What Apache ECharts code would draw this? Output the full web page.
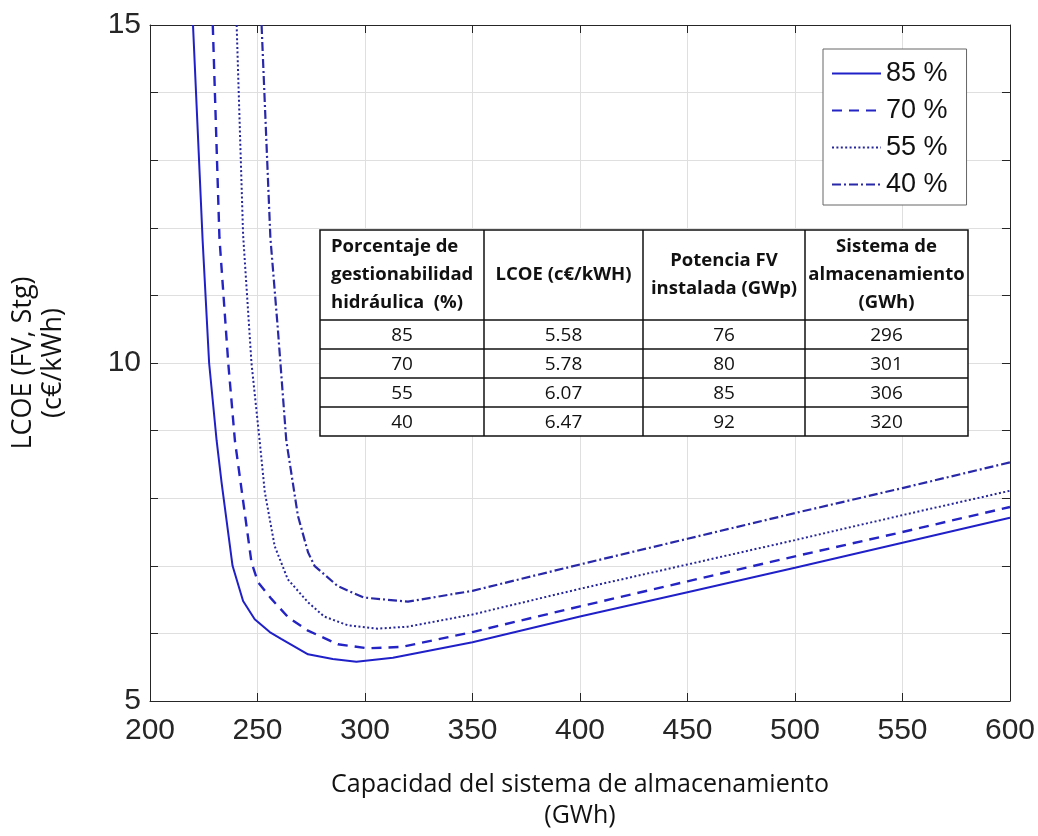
<!DOCTYPE html>
<html>
<head>
<meta charset="utf-8">
<script src="https://cdn.jsdelivr.net/npm/echarts@6/dist/echarts.min.js"></script>
<style>
html,body{margin:0;padding:0;background:#fff;}
#chart{width:1038px;height:836px;}
</style>
</head>
<body>
<div id="chart"></div>
<script>
// ---- Data ----
const seriesNames = ['85 %', '70 %', '55 %', '40 %'];

const x85 = [220, 224.5, 227.5, 231, 233.3, 238.4, 243.3, 248.7, 255.7, 261, 273.5, 285, 296, 313, 350, 400, 450, 500, 550, 600];
const y85 = [15, 11.8, 10.0, 8.85, 8.23, 7.0, 6.48, 6.21, 6.02, 5.92, 5.69, 5.62, 5.58, 5.64, 5.87, 6.25, 6.61, 6.97, 7.34, 7.71];

const x70 = [229.2, 232.3, 236.4, 239.5, 247.2, 250.2, 256.5, 264.2, 273.5, 287.4, 301, 317, 350, 400, 450, 500, 550, 600];
const y70 = [15, 11.85, 10.0, 8.85, 7.05, 6.76, 6.51, 6.24, 6.04, 5.84, 5.78, 5.80, 6.02, 6.40, 6.77, 7.14, 7.50, 7.87];

const x55 = [240.3, 243.3, 247.2, 251, 253.4, 258, 264.1, 273.5, 281, 292, 306, 320, 350, 400, 450, 500, 550, 600];
const y55 = [15, 11.9, 10.0, 8.85, 8.09, 7.29, 6.8, 6.46, 6.25, 6.12, 6.07, 6.10, 6.28, 6.66, 7.02, 7.38, 7.75, 8.11];

const x40 = [251.9, 256, 259.5, 263.4, 268.8, 273.5, 276.5, 287.3, 299.5, 320, 335, 350, 400, 450, 500, 550, 600];
const y40 = [15, 11.85, 10.49, 8.85, 7.74, 7.2, 7.0, 6.70, 6.53, 6.47, 6.55, 6.63, 7.02, 7.40, 7.78, 8.15, 8.53];

const yTickLabels = [5, 10, 15];

const tableHeaders = [
  'Porcentaje de\ngestionabilidad\nhidráulica  (%)',
  'LCOE (c€/kWH)',
  'Potencia FV\ninstalada (GWp)',
  'Sistema de\nalmacenamiento\n(GWh)'
];
const tablePct  = ['85', '70', '55', '40'];
const tableLcoe = ['5.58', '5.78', '6.07', '6.47'];
const tablePot  = ['76', '80', '85', '92'];
const tableStor = ['296', '301', '306', '320'];

// ---- Build ----
function pairs(xs, ys) { return xs.map((x, i) => [x, ys[i]]); }
const seriesData = [pairs(x85, y85), pairs(x70, y70), pairs(x55, y55), pairs(x40, y40)];
const lineColors = ['#2020c8', '#2424c4', '#26269c', '#2828a8'];
const lineTypes = ['solid', [10, 7], [2, 2.4], [9, 3, 2, 3]];
const lineWidths = [2, 2.4, 2, 2.2];

const tickFont = '"Liberation Sans", Arial, Helvetica, sans-serif';
const titleFont = '"Open Sans", "Noto Sans", sans-serif';

// table graphic
const colX = [320, 484, 643, 805, 968];
const rowY = [230, 320, 349, 378, 407, 436];
const graphics = [];
graphics.push({
  type: 'rect', z: 100,
  shape: {x: colX[0], y: rowY[0], width: colX[4] - colX[0], height: rowY[5] - rowY[0]},
  style: {fill: '#fff', stroke: '#111', lineWidth: 1.5}
});
for (let i = 1; i < colX.length - 1; i++) {
  graphics.push({type: 'line', z: 101, shape: {x1: colX[i], y1: rowY[0], x2: colX[i], y2: rowY[5]}, style: {stroke: '#111', lineWidth: 1.5}});
}
for (let j = 1; j < rowY.length - 1; j++) {
  graphics.push({type: 'line', z: 101, shape: {x1: colX[0], y1: rowY[j], x2: colX[4], y2: rowY[j]}, style: {stroke: '#111', lineWidth: 1.5}});
}
tableHeaders.forEach((h, c) => {
  const left = c === 0;
  graphics.push({
    type: 'text', z: 102,
    x: left ? colX[0] + 11 : (colX[c] + colX[c + 1]) / 2,
    y: (rowY[0] + rowY[1]) / 2,
    style: {
      text: h, fill: '#111', fontFamily: titleFont, fontSize: 18.5, fontWeight: 'bold',
      lineHeight: 28, align: left ? 'left' : 'center', verticalAlign: 'middle'
    }
  });
});
const tableCols = [tablePct, tableLcoe, tablePot, tableStor];
tableCols.forEach((col, c) => {
  col.forEach((v, r) => {
    graphics.push({
      type: 'text', z: 102,
      x: (colX[c] + colX[c + 1]) / 2,
      y: (rowY[r + 1] + rowY[r + 2]) / 2 + 1,
      style: {text: v, fill: '#111', fontFamily: titleFont, fontSize: 19, align: 'center', verticalAlign: 'middle'}
    });
  });
});

const axisCommon = {
  axisLine: {show: true, lineStyle: {color: '#262626', width: 1}},
  axisTick: {show: true, inside: true, length: 8, lineStyle: {color: '#262626'}},
};

const option = {
  backgroundColor: '#fff',
  animation: false,
  grid: {left: 148, right: 27, top: 25, bottom: 134, containLabel: false},
  legend: {
    orient: 'vertical',
    left: 823, top: 49,
    padding: [10, 19, 6, 8],
    itemWidth: 49, itemHeight: 14, itemGap: 8,
    backgroundColor: '#fff',
    borderColor: '#666', borderWidth: 1,
    itemStyle: {opacity: 0},
    textStyle: {fontFamily: tickFont, fontSize: 27, color: '#111', lineHeight: 29},
    data: seriesNames,
    z: 120
  },
  xAxis: [
    Object.assign({
      type: 'value', min: 200, max: 600, interval: 50, position: 'bottom',
      name: 'Capacidad del sistema de almacenamiento\n(GWh)',
      nameLocation: 'middle', nameGap: 68,
      nameTextStyle: {fontFamily: titleFont, fontSize: 25, color: '#111', lineHeight: 31},
      axisLabel: {fontFamily: tickFont, fontSize: 30, color: '#262626', margin: 15, lineHeight: 30},
      splitLine: {show: true, lineStyle: {color: '#dfdfdf', width: 1}}
    }, axisCommon),
    Object.assign({
      type: 'value', min: 200, max: 600, interval: 50, position: 'top',
      axisLabel: {show: false}, splitLine: {show: false}
    }, axisCommon)
  ],
  yAxis: [
    Object.assign({
      type: 'value', min: 5, max: 15, interval: 1, position: 'left',
      name: 'LCOE (FV, Stg)\n(c€/kWh)',
      nameLocation: 'middle', nameGap: 82, nameRotate: 90,
      nameTextStyle: {fontFamily: titleFont, fontSize: 27, color: '#111', lineHeight: 30},
      axisLabel: {
        fontFamily: tickFont, fontSize: 30, color: '#262626', margin: 9,
        formatter: v => (yTickLabels.indexOf(v) >= 0 ? String(v) : '')
      },
      splitLine: {show: true, lineStyle: {color: '#dfdfdf', width: 1}}
    }, axisCommon),
    Object.assign({
      type: 'value', min: 5, max: 15, interval: 1, position: 'right',
      axisLabel: {show: false}, splitLine: {show: false}
    }, axisCommon)
  ],
  series: seriesNames.map((n, i) => ({
    name: n, type: 'line', xAxisIndex: 0, yAxisIndex: 0,
    data: seriesData[i], symbol: 'none', smooth: false, clip: true,
    lineStyle: {color: lineColors[i], width: lineWidths[i], type: lineTypes[i]},
    itemStyle: {color: lineColors[i]},
    z: 10
  })),
  graphic: graphics
};

const chart = echarts.init(document.getElementById('chart'), null, {renderer: 'canvas'});
chart.setOption(option);
</script>
</body>
</html>
